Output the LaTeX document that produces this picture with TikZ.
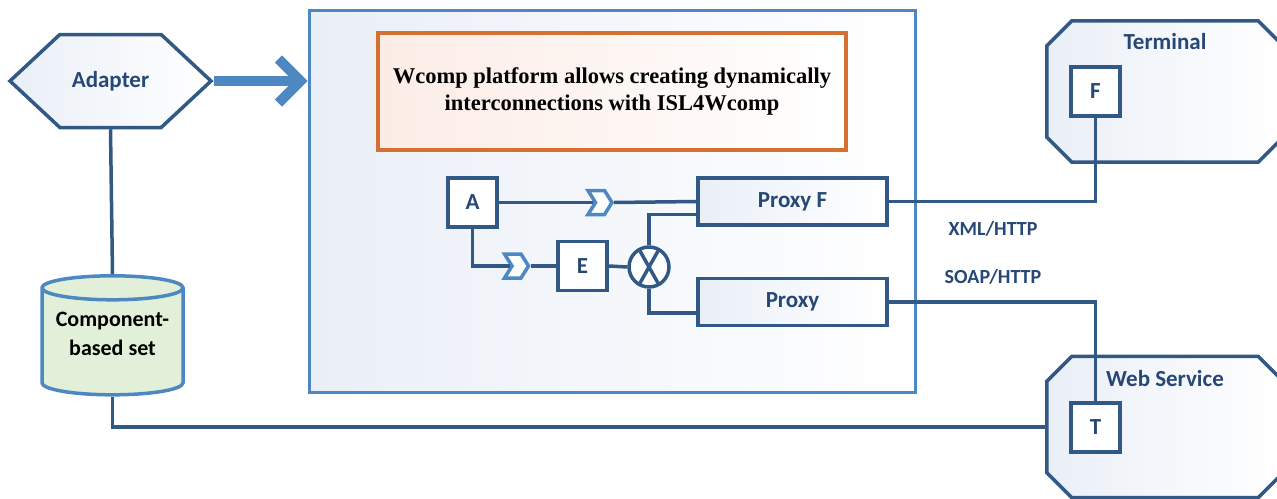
\documentclass[tikz,border=0pt]{standalone}
\usepackage{fontspec}
\setmainfont{Carlito}
\newfontfamily\titlefont{Liberation Serif}
\usetikzlibrary{arrows.meta, positioning, shapes.geometric, shapes.symbols}
\definecolor{lineD}{RGB}{50,88,133}
\definecolor{lineL}{RGB}{78,136,194}
\definecolor{textD}{RGB}{38,72,118}
\definecolor{boxfill}{RGB}{234,239,247}
\definecolor{lineO}{RGB}{214,112,48}
\definecolor{fillO}{RGB}{252,236,230}
\definecolor{cylfill}{RGB}{226,239,217}
\newcommand{\lbl}[1]{\fontsize{20}{24}\selectfont\bfseries\color{textD}#1}
\newcommand{\octagon}[1]{%
  \draw[octline] ([xshift=25pt]#1.north west) -- ([xshift=-25pt]#1.north east)
    -- ([yshift=-25pt]#1.north east) -- ([yshift=25pt]#1.south east)
    -- ([xshift=-25pt]#1.south east) -- ([xshift=25pt]#1.south west)
    -- ([yshift=25pt]#1.south west) -- ([yshift=-25pt]#1.north west) -- cycle;}

\begin{document}
\begin{tikzpicture}[
  x=1pt, y=-1pt,
  >=Stealth,
  hexa/.style={
    shape=signal, signal to=east and west, signal pointer angle=86,
    draw=lineD, line width=3.5pt, left color=boxfill, right color=white,
    minimum width=201pt, minimum height=93pt, inner sep=0pt,
    font=\fontsize{23}{27}\selectfont\bfseries, text=textD
  },
  platform/.style={
    draw=lineL, line width=3pt, left color=boxfill, right color=white,
    minimum width=606pt, minimum height=382pt
  },
  notebox/.style={
    draw=lineO, line width=3.5pt, left color=fillO, right color=white,
    minimum width=468pt, minimum height=117pt, align=center,
    font=\titlefont\fontsize{22.5}{27.5}\selectfont\bfseries
  },
  sqbox/.style={
    draw=lineD, line width=3.5pt, fill=white, inner sep=0pt,
    minimum width=49pt, minimum height=49pt,
    font=\fontsize{23}{27}\selectfont\bfseries, text=textD
  },
  proxybox/.style={
    draw=lineD, line width=3.5pt, left color=boxfill, right color=white,
    minimum width=189pt, minimum height=47pt,
    font=\fontsize{23}{27}\selectfont\bfseries, text=textD
  },
  chev/.style={
    shape=signal, signal from=west, signal to=east, signal pointer angle=116,
    draw=lineL, line width=3.5pt, fill=white, inner sep=0pt,
    minimum width=24pt, minimum height=24pt
  },
  crossnode/.style={
    circle, draw=lineD, line width=3.5pt, fill=white, minimum size=40pt, inner sep=0pt,
    path picture={\draw[lineD, line width=3.5pt]
      ([shift={(-9pt,-16pt)}]path picture bounding box.center) -- ([shift={(9pt,16pt)}]path picture bounding box.center)
      ([shift={(-9pt,16pt)}]path picture bounding box.center) -- ([shift={(9pt,-16pt)}]path picture bounding box.center);}
  },
  octo/.style={minimum width=236pt, minimum height=141pt, inner sep=0pt},
  octline/.style={draw=lineD, line width=3.5pt, left color=boxfill, right color=white},
  octlabel/.style={anchor=north, font=\fontsize{23}{27}\selectfont\bfseries, text=textD},
  dbase/.style={
    cylinder, shape border rotate=90, aspect=0.2,
    draw=lineL, line width=3.5pt, fill=cylfill,
    minimum width=141pt, minimum height=119pt, align=center, text depth=20pt,
    font=\fontsize{22}{29}\selectfont\bfseries
  },
  conn/.style={draw=lineD, line width=3.5pt},
  bigarr/.style={draw=lineL, line width=10pt,
    -{Straight Barb[length=22pt, width=44pt, line width=10pt]}},
]
\useasboundingbox (0,0) rectangle (1277,498);

% --- Left side ---
\node[hexa]  (adapter) at (110.5,81) {Adapter};
\node[dbase] (compset) at (112.5,344) {Component-\\based set};

% --- Platform ---
\node[platform] (wcomp) at (612,201) {};
\node[notebox]  (note)  at (612,91.5) {Wcomp platform allows creating dynamically\\interconnections with ISL4Wcomp};

\node[sqbox]     (boxA)   at (472.5,202.5) {A};
\node[sqbox]     (boxE)   at (582.5,266) {E};
\node[crossnode] (mix)    at (649,267) {};
\node[chev]      (chevA)  at (600,202.5) {};
\node[chev]      (chevE)  at (516.5,266) {};
\node[proxybox]  (proxyF) at (792.5,201.5) {Proxy F};
\node[proxybox]  (proxy)  at (792.5,302) {Proxy};

% --- Right side ---
\node[octo] (terminal) at (1165,91.5) {};
\node[octo] (websvc)   at (1165,427) {};
\octagon{terminal}
\octagon{websvc}
\node[octlabel] (termname) at ([yshift=-9pt]terminal.north) {Terminal};
\node[octlabel] (wsname)   at ([yshift=-11pt]websvc.north) {Web Service};
\node[sqbox] (boxF) at (1095.5,91.5) {F};
\node[sqbox] (boxT) at (1095.5,427.5) {T};

\node (xml)  at (993,229) {\lbl{XML/HTTP}};
\node (soap) at (993,277) {\lbl{SOAP/HTTP}};

% --- Connectors ---
\draw[bigarr] (adapter.east) -- (adapter.east -| wcomp.west);
\draw[conn] (adapter.south) -- (compset.north);
\draw[conn] (compset.south) |- (websvc.west);

\draw[conn] (boxA.east) -- (chevA.west);
\draw[conn] (chevA.east) -- (proxyF.west);
\draw[conn] (boxA.south) |- (chevE.west);
\draw[conn] (chevE.east) -- (boxE.west);
\draw[conn] (boxE.east) -- (mix.west);
\draw[conn] (mix.north) |- ([yshift=-13pt]proxyF.west);
\draw[conn] (mix.south) |- ([yshift=-11pt]proxy.west);

\draw[conn] (proxyF.east) -| (boxF.south);
\draw[conn] (proxy.east) -| (boxT.north);

\end{tikzpicture}
\end{document}
